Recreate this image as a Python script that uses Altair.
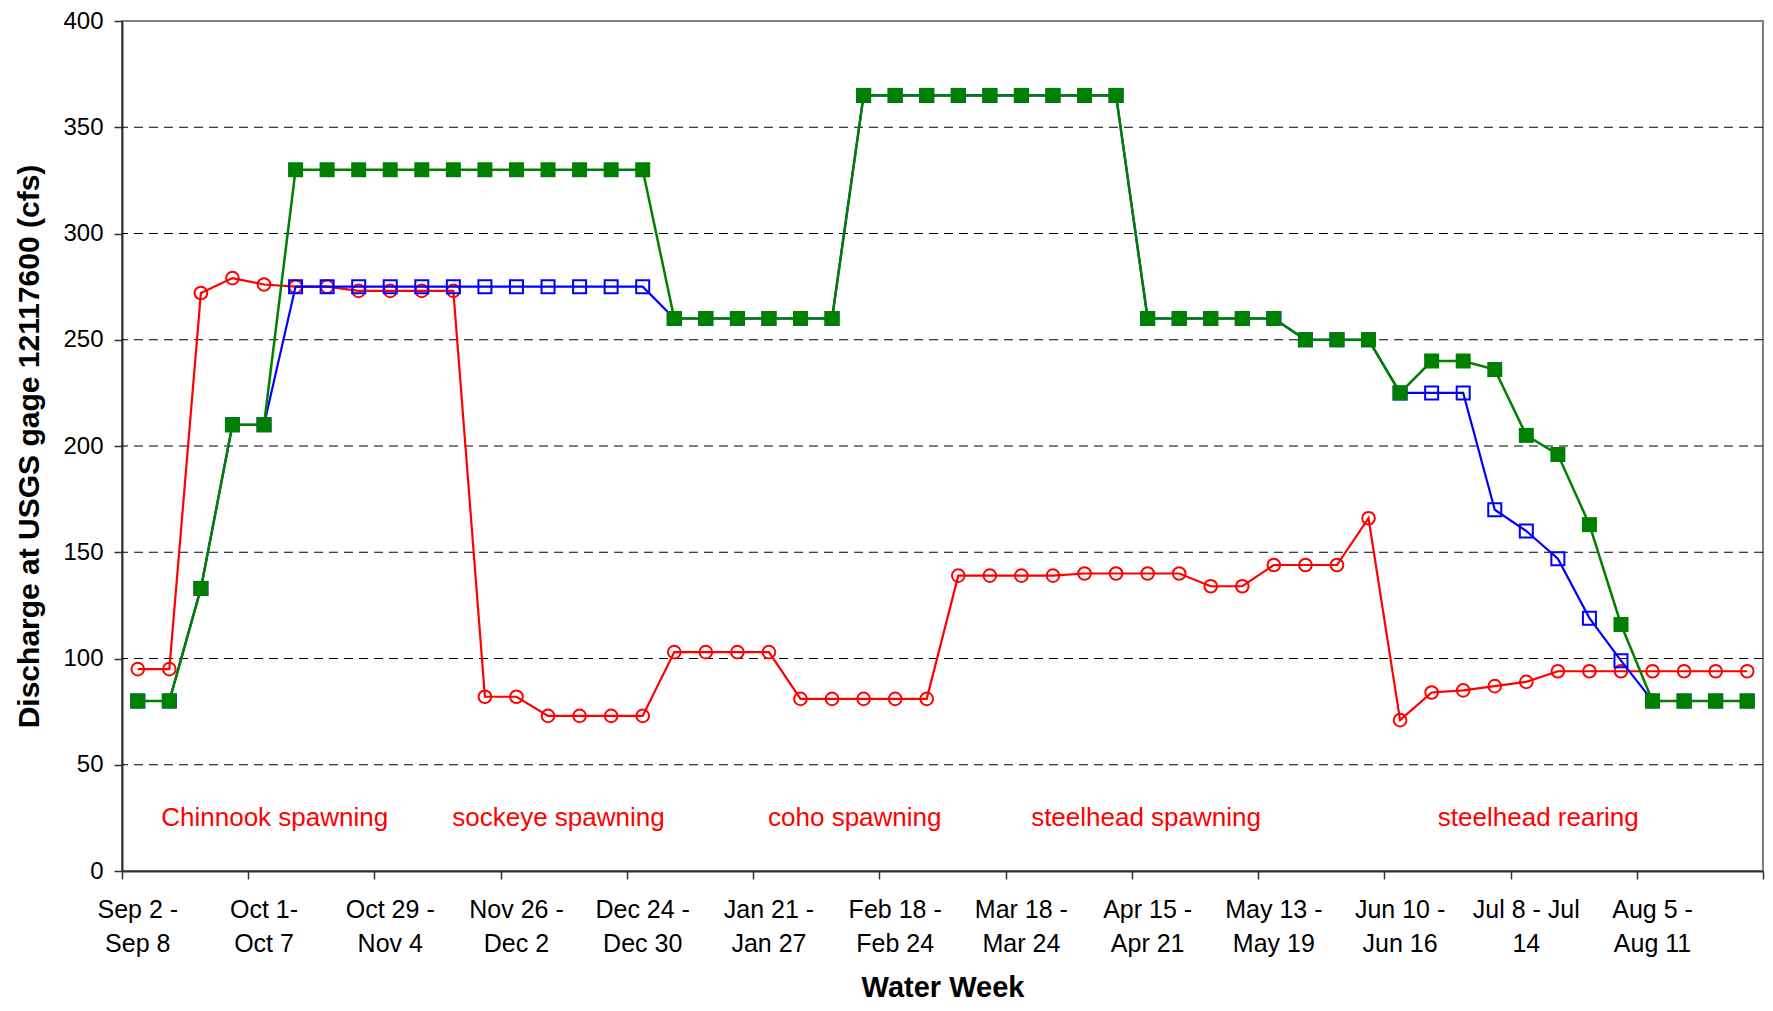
import altair as alt
import pandas as pd

# ---------------- data ----------------
week_index = list(range(52))

red_flow = [95, 95, 272, 279, 276, 275, 275, 273, 273, 273, 273,
            82, 82, 73, 73, 73, 73, 103, 103, 103, 103,
            81, 81, 81, 81, 81, 139, 139, 139, 139, 140, 140, 140, 140,
            134, 134, 144, 144, 144, 166, 71, 84, 85, 87, 89,
            94, 94, 94, 94, 94, 94, 94]

blue_flow = [80, 80, 133, 210, 210] + [275] * 12 + [260] * 6 + [365] * 9 + \
            [260] * 5 + [250] * 3 + [225] * 3 + [170, 160, 147, 119, 99] + [80] * 4

green_flow = [80, 80, 133, 210, 210] + [330] * 12 + [260] * 6 + [365] * 9 + \
             [260] * 5 + [250] * 3 + [225, 240, 240, 236, 205, 196, 163, 116] + [80] * 4

tick_weeks = [0, 4, 8, 12, 16, 20, 24, 28, 32, 36, 40, 44, 48]
tick_labels = ["Sep 2 -\nSep 8", "Oct 1-\nOct 7", "Oct 29 -\nNov 4", "Nov 26 -\nDec 2",
               "Dec 24 -\nDec 30", "Jan 21 -\nJan 27", "Feb 18 -\nFeb 24", "Mar 18 -\nMar 24",
               "Apr 15 -\nApr 21", "May 13 -\nMay 19", "Jun 10 -\nJun 16", "Jul 8 - Jul\n14",
               "Aug 5 -\nAug 11"]

grid_values = [50, 100, 150, 200, 250, 300, 350]

fish_labels = ["Chinnook spawning", "sockeye spawning", "coho spawning",
               "steelhead spawning", "steelhead rearing"]
fish_week = [4.84, 13.83, 23.22, 32.45, 44.88]
fish_flow = [21, 21, 21, 21, 21]

# ---------------- layout ----------------
W, H = 1641, 850
FONT = "Liberation Sans"
RED, BLUE, GREEN = "#FF0000", "#0000FF", "#008000"


def series_df(vals):
    return pd.DataFrame({"x": [i + 0.5 for i in week_index], "y": vals})


xenc = alt.X(
    "x:Q",
    scale=alt.Scale(domain=[0, 52], nice=False, zero=False),
    axis=alt.Axis(
        values=list(range(0, 53, 4)), labels=False, ticks=True, tickSize=8,
        grid=False, domain=True, title="Water Week", titleFontSize=29,
        titleFontWeight="bold", titleBaseline="alphabetic", titleY=125,
        titleX=W / 2, titleAlign="center",
    ),
)
yenc = alt.Y(
    "y:Q",
    scale=alt.Scale(domain=[0, 400], nice=False),
    axis=alt.Axis(
        values=list(range(0, 401, 50)), tickSize=8, labelPadding=11, grid=False,
        title="Discharge at USGS gage 12117600 (cfs)", titleFontSize=30,
        titleFontWeight="bold", titleAngle=270, titleX=-84, titleY=H / 2,
        titleBaseline="alphabetic", titleAlign="center",
    ),
)

grid = alt.Chart(pd.DataFrame({"y": grid_values})).mark_rule(
    color="black", strokeDash=[9, 6], strokeWidth=1
).encode(y=yenc)

red_df, blue_df, green_df = series_df(red_flow), series_df(blue_flow), series_df(green_flow)

red_line = alt.Chart(red_df).mark_line(color=RED, strokeWidth=2.2).encode(x=xenc, y=yenc)
red_pts = alt.Chart(red_df).mark_point(
    shape="circle", filled=False, color=RED, size=160, strokeWidth=2, opacity=1
).encode(x=xenc, y=yenc)

blue_line = alt.Chart(blue_df).mark_line(color=BLUE, strokeWidth=2.2).encode(x=xenc, y=yenc)
blue_pts = alt.Chart(blue_df).mark_point(
    shape="square", filled=False, color=BLUE, size=169, strokeWidth=2, opacity=1
).encode(x=xenc, y=yenc)

green_line = alt.Chart(green_df).mark_line(color=GREEN, strokeWidth=2.5).encode(x=xenc, y=yenc)
green_pts = alt.Chart(green_df).mark_point(
    shape="square", filled=True, color=GREEN, size=225, opacity=1
).encode(x=xenc, y=yenc)

tick_text = alt.Chart(
    pd.DataFrame({"x": [w + 0.5 for w in tick_weeks], "label": tick_labels})
).mark_text(
    lineBreak="\n", lineHeight=34, fontSize=25, baseline="alphabetic",
    align="center", font=FONT, color="black"
).encode(x=xenc, y=alt.value(H + 47), text="label:N")

fish_text = alt.Chart(
    pd.DataFrame({"x": fish_week, "y": fish_flow, "label": fish_labels})
).mark_text(
    fontSize=26, baseline="alphabetic", align="center", font=FONT, color=RED
).encode(x=xenc, y=yenc, text="label:N")

chart = alt.layer(
    grid, red_line, red_pts, blue_line, blue_pts, green_line, green_pts,
    tick_text, fish_text
).properties(
    width=W, height=H,
    autosize=alt.AutoSizeParams(type="none"),
    padding={"left": 114, "top": 13, "right": 2, "bottom": 132},
).configure_view(
    stroke="#808080", strokeWidth=2
).configure_axis(
    domainColor="#333333", domainWidth=2, tickColor="#333333", tickWidth=1.5,
    labelFont=FONT, labelFontSize=24, labelColor="black",
    titleFont=FONT, titleColor="black",
)

chart.save("out.html", embed_options={"renderer": "svg", "actions": False})
